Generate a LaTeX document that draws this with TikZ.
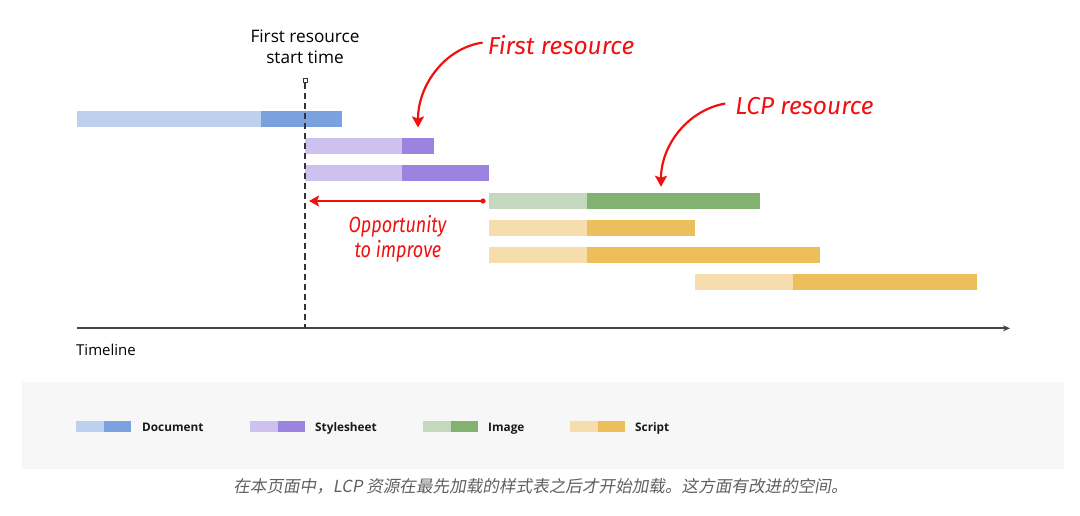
\documentclass[tikz,border=0pt]{standalone}
\usepackage{fontspec}
\setmainfont{Open Sans}
\newfontfamily\hand{Fira Sans}
\newfontfamily\handn[FakeStretch=0.82]{Fira Sans}
\newfontfamily\cjk[FakeSlant=0.18]{Noto Sans CJK SC}
\usetikzlibrary{arrows.meta}
\definecolor{docL}{HTML}{BDD0EE}
\definecolor{docD}{HTML}{7BA1DE}
\definecolor{ssL}{HTML}{CDC1F0}
\definecolor{ssD}{HTML}{9C83E0}
\definecolor{imL}{HTML}{C3D8BD}
\definecolor{imD}{HTML}{83B16F}
\definecolor{scL}{HTML}{F6DDAD}
\definecolor{scD}{HTML}{ECBF5C}
\definecolor{anno}{HTML}{F01010}
\definecolor{legbg}{HTML}{F7F7F7}
\definecolor{axis}{HTML}{444444}
\definecolor{capgray}{HTML}{5F5F5F}
\tikzset{
  bar/.style={rectangle, inner sep=0pt, outer sep=0pt, minimum height=16pt, anchor=west},
  swatch/.style={rectangle, inner sep=0pt, outer sep=0pt, minimum height=11pt, minimum width=27.5pt, anchor=west},
  annotext/.style={text=anno, inner sep=0pt, anchor=base, font=\hand\itshape\fontsize{24.5}{25}\selectfont},
  annoarrow/.style={draw=anno, line width=2.2pt, -{Stealth[length=11pt,width=12pt,inset=2pt]}},
  label/.style={inner sep=0pt, anchor=base, text=black, font=\fontsize{17.2}{19}\selectfont},
  legtext/.style={inner sep=0pt, anchor=base west, text=black!90, font=\bfseries\fontsize{11.8}{14}\selectfont},
}
\begin{document}
\begin{tikzpicture}[x=1pt,y=-1pt]
\useasboundingbox (0,0) rectangle (1080,516);
% bars
\node[bar, fill=docL, minimum width=184pt] (docL) at (77,119.5) {};
\node[bar, fill=docD, minimum width=81pt] (docD) at (docL.east) {};
\node[bar, fill=ssL, minimum width=97pt] (ss1L) at (305,146.5) {};
\node[bar, fill=ssD, minimum width=32pt] (ss1D) at (ss1L.east) {};
\node[bar, fill=ssL, minimum width=97pt] (ss2L) at (305,173.5) {};
\node[bar, fill=ssD, minimum width=87pt] (ss2D) at (ss2L.east) {};
\node[bar, fill=imL, minimum width=98pt] (imL) at (489,200.8) {};
\node[bar, fill=imD, minimum width=173pt] (imD) at (imL.east) {};
\node[bar, fill=scL, minimum width=98pt] (sc1L) at (489,228) {};
\node[bar, fill=scD, minimum width=108pt] (sc1D) at (sc1L.east) {};
\node[bar, fill=scL, minimum width=98pt] (sc2L) at (489,255.3) {};
\node[bar, fill=scD, minimum width=233pt] (sc2D) at (sc2L.east) {};
\node[bar, fill=scL, minimum width=98pt] (sc3L) at (695,282.3) {};
\node[bar, fill=scD, minimum width=184pt] (sc3D) at (sc3L.east) {};
% axis
\coordinate (ax0) at (77,328.3);
\coordinate (ax1) at (1010,328.3);
\draw[axis, line width=2pt, -{Stealth[length=7pt,width=6pt]}] (ax0) -- (ax1);
\node[label, anchor=base west, font=\fontsize{15}{16}\selectfont] (timeline) at (76,355) {Timeline};
% first resource start marker
\coordinate (mk) at (305,81);
\coordinate (mkb) at (305,328.3);
\draw[black!80, line width=1.6pt, dash pattern=on 6pt off 4pt] ([yshift=-2.5pt]mk) -- (mkb);
\node[draw=black!80, line width=1pt, rectangle, inner sep=0pt, minimum size=4pt, fill=white] (mksq) at (mk) {};
\node[label] (fr1) at (305,43) {First resource};
\node[label] (fr2) at (305,64) {start time};
% annotations
\node[annotext] (frtxt) at (561,55) {First resource};
\node[annotext] (lcptxt) at (804.5,115) {LCP resource};
\coordinate (frs) at ([xshift=-5pt,yshift=3pt]frtxt.west);
\coordinate (frt) at ([yshift=11pt]ss1D.north);
\draw[annoarrow] (frs) .. controls (445,48) and (418,85) .. (frt);
\coordinate (lcps) at ([xshift=-10pt,yshift=3pt]lcptxt.west);
\coordinate (lcpt) at ([xshift=-12.5pt,yshift=6pt]imD.north);
\draw[annoarrow] (lcps) .. controls (688,110) and (661,145) .. (lcpt);
\coordinate (ops) at (483,201);
\coordinate (opt) at (309,201);
\fill[anno] (ops) circle (2.6pt);
\draw[annoarrow, line width=2pt, -{Stealth[length=10pt,width=11pt,inset=2pt]}] (ops) -- (opt);
\node[annotext, font=\handn\itshape\fontsize{22}{22}\selectfont] (op1) at (397.5,233) {Opportunity};
\node[annotext, font=\handn\itshape\fontsize{22}{22}\selectfont] (op2) at (398,258) {to improve};
% legend
\fill[legbg] (22,382) rectangle (1064,469);
\node[swatch, fill=docL] (lgdocL) at (76,426.5) {};
\node[swatch, fill=docD] (lgdocD) at (lgdocL.east) {};
\node[legtext] (lgdoc) at (142,431) {Document};
\node[swatch, fill=ssL] (lgssL) at (250,426.5) {};
\node[swatch, fill=ssD] (lgssD) at (lgssL.east) {};
\node[legtext] (lgss) at (315,431) {Stylesheet};
\node[swatch, fill=imL] (lgimL) at (423,426.5) {};
\node[swatch, fill=imD] (lgimD) at (lgimL.east) {};
\node[legtext] (lgim) at (488,431) {Image};
\node[swatch, fill=scL] (lgscL) at (570,426.5) {};
\node[swatch, fill=scD] (lgscD) at (lgscL.east) {};
\node[legtext] (lgsc) at (635,431) {Script};
% caption
\node[inner sep=0pt, anchor=base, text=capgray, font=\cjk\fontsize{16.6}{19}\selectfont] (cap) at (540.5,492) {在本页面中，LCP 资源在最先加载的样式表之后才开始加载。这方面有改进的空间。};
\end{tikzpicture}
\end{document}
